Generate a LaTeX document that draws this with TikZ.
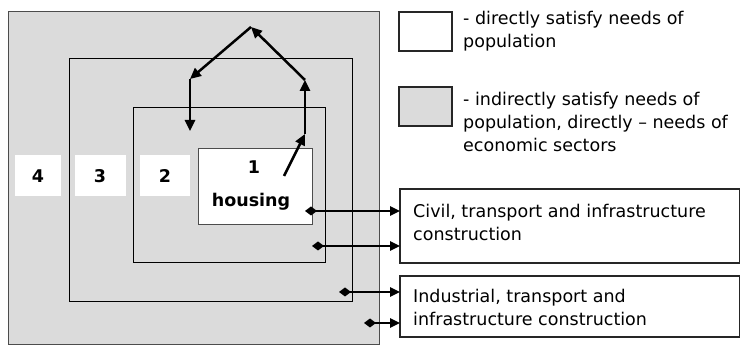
\documentclass[tikz,border=0pt]{standalone}
\usepackage{fontspec}
\setmainfont{DejaVu Sans}
\usetikzlibrary{arrows.meta}
\definecolor{hatch}{gray}{0.86}
\begin{document}
\begin{tikzpicture}[x=1pt,y=-1pt,
  txt/.style={font=\fontsize{17.5}{23}\selectfont, inner sep=0pt, align=left, anchor=north west},
  num/.style={font=\fontsize{17.5}{21}\selectfont\bfseries, inner sep=0pt},
  conn/.style={line width=2.5pt, -{Triangle[length=11pt,width=10pt]}},
  dconn/.style={line width=2.4pt, {Diamond[length=12pt,width=9pt]}-{Triangle[length=10pt,width=9pt]}},
  patch/.style={fill=white, draw=none},
  zone/.style={draw=black, line width=1pt},
  tbox/.style={draw=black!85, line width=1.2pt}
]
\useasboundingbox (0,0) rectangle (740,347);
\fill[white] (0,0) rectangle (740,347);
% nested zones
\draw[zone, fill=hatch, draw=black!70] (8,12) rectangle (379,345);
\draw[zone] (69,59) rectangle (352,302);
\draw[zone] (133,108) rectangle (325,263);
\draw[zone, fill=white, draw=black!70] (198,149) rectangle (312,225);
% white label patches
\fill[patch] (15,155) rectangle (61,196);
\fill[patch] (75,155) rectangle (126,196);
\fill[patch] (140,155) rectangle (190,196);
\node[num] (n4) at (38,176) {4};
\node[num] (n3) at (100,176) {3};
\node[num] (n2) at (165,176) {2};
\node[num] (n1) at (254,167) {1};
\node[num] (hous) at (251,202) {housing};
% cycle arrows
\coordinate (c0) at (284,176);
\coordinate (c1) at (305,134);
\coordinate (c2) at (305,80);
\coordinate (c3) at (251,27);
\coordinate (c4) at (190,79);
\coordinate (c5) at (190,131);
\draw[conn] (c0) -- (c1);
\draw[conn] (c1) -- (c2);
\draw[conn] (c2) -- (c3);
\draw[conn] (c3) -- (c4);
\draw[conn] (c4) -- (c5);
% legend
\draw[tbox] (399,12) rectangle (452,51);
\draw[tbox, fill=hatch] (399,87) rectangle (452,126);
\node[txt] (leg1) at (463,10.7) {- directly satisfy needs of\\population};
\node[txt] (leg2) at (463,91.7) {- indirectly satisfy needs of\\population, directly -- needs of\\economic sectors};
% construction boxes
\draw[tbox] (400,189) rectangle (739.4,263);
\draw[tbox] (400,276) rectangle (739.4,337);
\coordinate (civil) at (400,226);
\coordinate (indus) at (400,306);
\node[txt] (civtxt) at (413,203.7) {Civil, transport and infrastructure\\construction};
\node[txt] (indtxt) at (413,288.7) {Industrial, transport and\\infrastructure construction};
\coordinate (s1) at (305,211);
\coordinate (s2) at (312,246);
\coordinate (s3) at (339,292);
\coordinate (s4) at (364,323);
\draw[dconn] (s1) -- (civil |- s1);
\draw[dconn] (s2) -- (civil |- s2);
\draw[dconn] (s3) -- (indus |- s3);
\draw[dconn] (s4) -- (indus |- s4);
\end{tikzpicture}
\end{document}
